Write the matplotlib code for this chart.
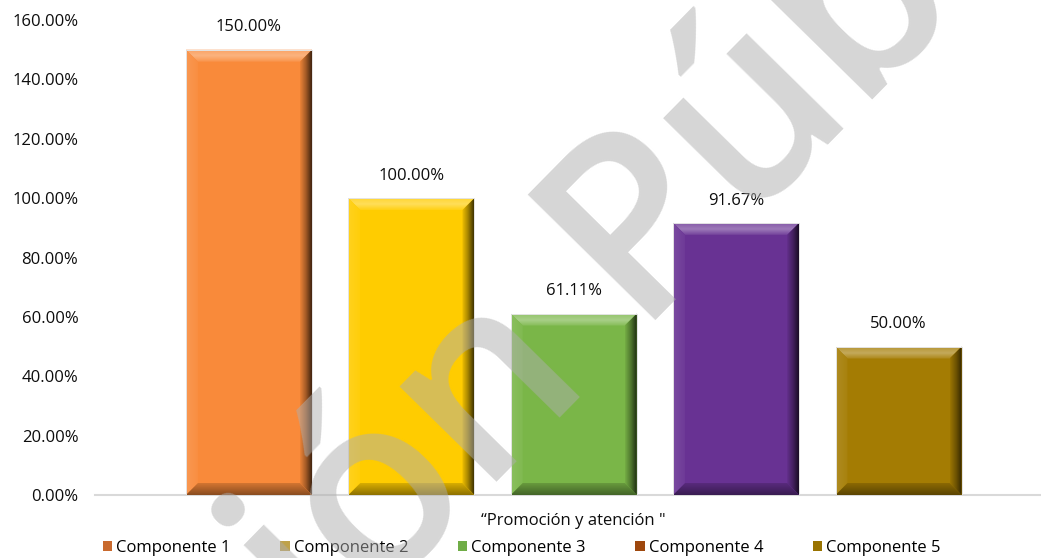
import numpy as np
import matplotlib
matplotlib.use('Agg')
import matplotlib.pyplot as plt
from matplotlib.patches import Polygon, Patch
from matplotlib.colors import to_rgb

# ---- data ----
series = ['Componente 1', 'Componente 2', 'Componente 3', 'Componente 4', 'Componente 5']
values = [150.00, 100.00, 61.11, 91.67, 50.00]
category = '“Promoción y atención "'
y_ticks = [0, 20, 40, 60, 80, 100, 120, 140, 160]
y_tick_labels = [f'{v:.2f}%' for v in y_ticks]
watermark = 'Versión Pública'

# ---- styles ----
bar_colors = ['#F98A3A', '#FFCC00', '#7AB648', '#683293', '#A47C03']
legend_colors = ['#C96A2E', '#BFA24A', '#70AD47', '#9E480E', '#997300']

plt.rcParams['font.family'] = ['Open Sans', 'DejaVu Sans']

W, H = 1041, 558
fig = plt.figure(figsize=(W / 100, H / 100), dpi=100)
ax_l, ax_b, ax_w, ax_h = 95, 63, 946, 475
ax = fig.add_axes([ax_l / W, ax_b / H, ax_w / W, ax_h / H])

pos = np.arange(len(values))
width = 0.776
bars = ax.bar(pos, values, width=width, color=bar_colors,
              edgecolor='#E4E4E4', linewidth=0.7, zorder=2)
xlim = (-0.948, 4.877)
ylim = (0, 160)
ax.set_xlim(*xlim)
ax.set_ylim(*ylim)

ppx = ax_w / (xlim[1] - xlim[0])
ppy = ax_h / (ylim[1] - ylim[0])
bev = 12
dx, dy = bev / ppx, bev / ppy


def mix(c, target, t):
    c = np.array(to_rgb(c)); target = np.array(target)
    return c + (target - c) * t


def light(c, t):
    return mix(c, (1, 1, 1), t)


def dark(c, t):
    return mix(c, (0, 0, 0), t)


def grad_poly(verts, stops, direction):
    poly = Polygon(verts, closed=True, facecolor='none', edgecolor='none', zorder=3)
    ax.add_patch(poly)
    xs = [v[0] for v in verts]; ys = [v[1] for v in verts]
    n = 64
    t = np.linspace(0, 1, n)
    cols = np.array(stops)
    st = np.linspace(0, 1, len(stops))
    img = np.stack([np.interp(t, st, cols[:, k]) for k in range(3)], axis=-1)
    if direction == 'h':
        img = img[np.newaxis, :, :]
    else:
        img = img[:, np.newaxis, :]
    im = ax.imshow(img, extent=(min(xs), max(xs), min(ys), max(ys)), origin='lower',
                   aspect='auto', interpolation='bilinear', zorder=3)
    im.set_clip_path(poly)


for b, c in zip(bars, bar_colors):
    x0 = b.get_x(); x1 = x0 + b.get_width(); y0 = 0; y1 = b.get_height()
    # top bevel (vertical gradient, bottom->top)
    grad_poly([(x0, y1), (x1, y1), (x1 - dx, y1 - dy), (x0 + dx, y1 - dy)],
              [light(c, 0.08), light(c, 0.35), light(c, 0.2)], 'v')
    # left bevel
    grad_poly([(x0, y0), (x0, y1), (x0 + dx, y1 - dy), (x0 + dx, y0 + dy)],
              [light(c, 0.12), light(c, 0.04)], 'h')
    # right bevel (left->right)
    grad_poly([(x1, y0), (x1, y1), (x1 - dx, y1 - dy), (x1 - dx, y0 + dy)],
              [dark(c, 0.05), dark(c, 0.35), dark(c, 0.75)], 'h')
    # bottom bevel (bottom->top)
    grad_poly([(x0, y0), (x1, y0), (x1 - dx, y0 + dy), (x0 + dx, y0 + dy)],
              [dark(c, 0.45), dark(c, 0.15)], 'v')
    # thin light edge
    ax.add_patch(Polygon([(x0, y0), (x0, y1), (x1, y1), (x1, y0)], closed=True,
                         facecolor='none', edgecolor='#E4E4E4', linewidth=0.7, zorder=4))

ax.set_xlim(*xlim)
ax.set_ylim(*ylim)

for b, v in zip(bars, values):
    ax.annotate(f'{v:.2f}%', (b.get_x() + b.get_width() / 2, v), xytext=(0, 16),
                textcoords='offset points', ha='center', va='center',
                fontsize=12, color='#0D0D0D', zorder=5)

for s in ['top', 'right', 'left']:
    ax.spines[s].set_visible(False)
ax.spines['bottom'].set_color('#D9D9D9')
ax.spines['bottom'].set_linewidth(1.5)
ax.spines['bottom'].set_zorder(1)

ax.set_yticks(y_ticks)
ax.set_yticklabels(y_tick_labels)
ax.set_xticks([pos.mean()])
ax.set_xticklabels([category])
ax.tick_params(axis='y', length=0, pad=12, labelsize=12, labelcolor='#0D0D0D')
ax.tick_params(axis='x', length=0, pad=13, labelsize=12, labelcolor='#0D0D0D')

handles = [Patch(facecolor=c, edgecolor='none', label=s) for s, c in zip(series, legend_colors)]
fig.legend(handles=handles, loc='center', bbox_to_anchor=(522 / W, 10 / H), ncol=5,
           frameon=False, fontsize=12, handlelength=0.55, handleheight=0.55,
           handletextpad=0.25, columnspacing=2.98, borderaxespad=0, borderpad=0)

fig.text(560 / W, (H - 324) / H, watermark, rotation=45.5, rotation_mode='anchor',
         ha='center', va='center', fontsize=180, fontweight='semibold',
         color='#AEAEAE', alpha=0.5, zorder=10)

fig.savefig('out.png', dpi=100)
